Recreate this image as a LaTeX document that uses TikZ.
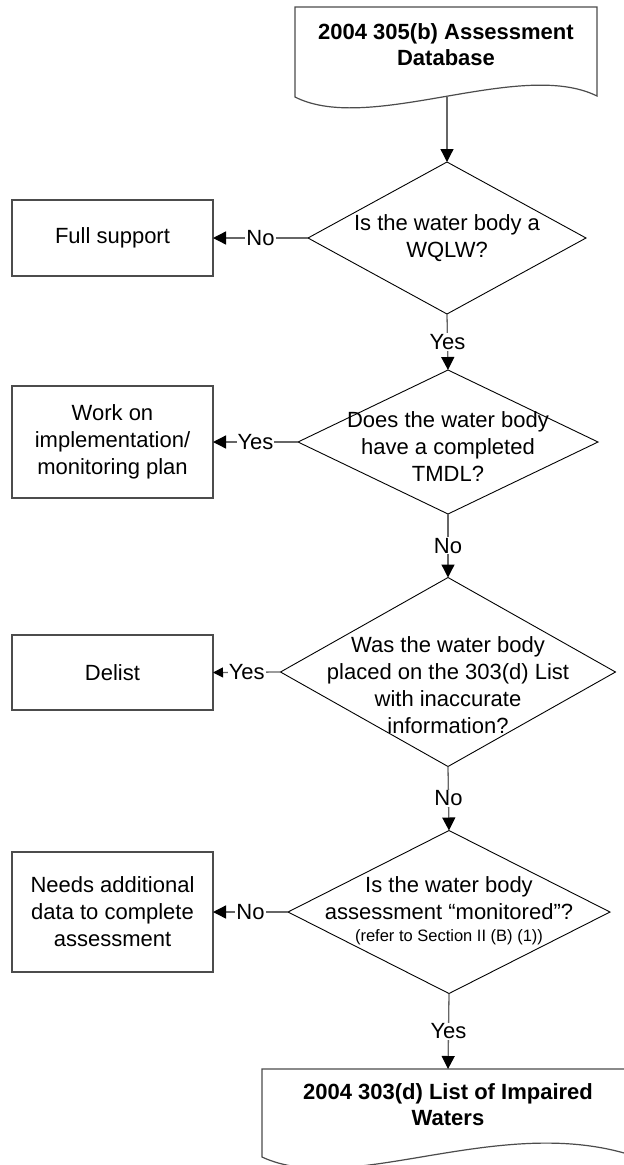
\documentclass[tikz,border=0pt]{standalone}
\usepackage{fontspec}
\setmainfont{Liberation Sans}
\usetikzlibrary{shapes.geometric,arrows.meta}
\begin{document}
\begin{tikzpicture}[x=1pt,y=-1pt,
  every node/.style={font=\fontsize{22}{27}\selectfont, text=black},
  box/.style={draw=black!70, line width=1.2pt, rectangle, minimum width=201pt, inner sep=0pt, outer sep=0pt, align=center},
  dia/.style={draw=black, line width=0.9pt, diamond, inner sep=0pt, outer sep=0pt},
  dtext/.style={align=center, inner sep=0pt},
  conn/.style={draw=black!60, line width=1.3pt},
  arr/.style={conn, -{Triangle[length=13pt,width=13pt,color=black]}},
  arrsmall/.style={conn, -{Triangle[length=10pt,width=10pt,color=black]}},
  lab/.style={fill=white, inner sep=1pt},
  doc/.style={draw=black!70, line width=1.2pt},
  doctext/.style={font=\bfseries\fontsize{22}{26}\selectfont, align=center, inner sep=0pt},
  small/.style={font=\fontsize{16.5}{20}\selectfont, inner sep=0pt}
]
\path[use as bounding box, fill=white] (0,0) rectangle (624,1165);

% top document
\draw[doc] (295,7) -- (597,7) -- (597,96) .. controls (520,58) and (370,135) .. (295,97) -- cycle;
\node[doctext] (doc1) at (446,45) {2004 305(b) Assessment\\Database};
\coordinate (doc1b) at (447,97);

% decisions
\node[dia, minimum width=278pt, minimum height=152pt] (d1) at (447,238) {};
\node[dtext] (d1t) at (447,238) {Is the water body a\\WQLW?};

\node[dia, minimum width=300pt, minimum height=144pt] (d2) at (448,442) {};
\node[dtext] (d2t) at (448,447) {Does the water body\\have a completed\\TMDL?};

\node[dia, minimum width=335pt, minimum height=189pt] (d3) at (448,672) {};
\node[dtext] (d3t) at (448,685.5) {Was the water body\\placed on the 303(d) List\\with inaccurate\\information?};

\node[dia, minimum width=322pt, minimum height=163pt] (d4) at (449,912) {};
\node[dtext] (d4ta) at (449,898.5) {Is the water body\\assessment “monitored”?};
\node[small] (d4tb) at (449,937) {(refer to Section II (B) (1))};

% boxes
\node[box, minimum height=76pt] (b1) at (112.5,238) {Full support};
\node[box, minimum height=112pt] (b2) at (112.5,442) {Work on\\implementation/\\monitoring plan};
\node[box, minimum height=75pt] (b3) at (112.5,672.5) {Delist};
\node[box, minimum height=120pt] (b4) at (112.5,912) {Needs additional\\data to complete\\assessment};

% bottom document
\draw[doc] (262,1069) -- (634,1069) -- (634,1156) .. controls (500,1112) and (350,1198) .. (262,1157) -- cycle;
\node[doctext] (doc2) at (448,1105) {2004 303(d) List of Impaired\\Waters};
\coordinate (doc2t) at (448,1069);

% connectors
\draw[arr] (doc1b) -- (d1.north);
\draw[arr] (d1.west) -- node[lab] {No} (b1.east);
\draw[arr] (d1.south) -- node[lab] {Yes} (d2.north);
\draw[arr] (d2.west) -- node[lab] {Yes} (b2.east);
\draw[arr] (d2.south) -- node[lab] {No} (d3.north);
\draw[arrsmall] (d3.west) -- node[lab] {Yes} (b3.east);
\draw[arr] (d3.south) -- node[lab] {No} (d4.north);
\draw[arr] (d4.west) -- node[lab] {No} (b4.east);
\draw[arr] (d4.south) -- node[lab] {Yes} (doc2t);
\end{tikzpicture}
\end{document}
